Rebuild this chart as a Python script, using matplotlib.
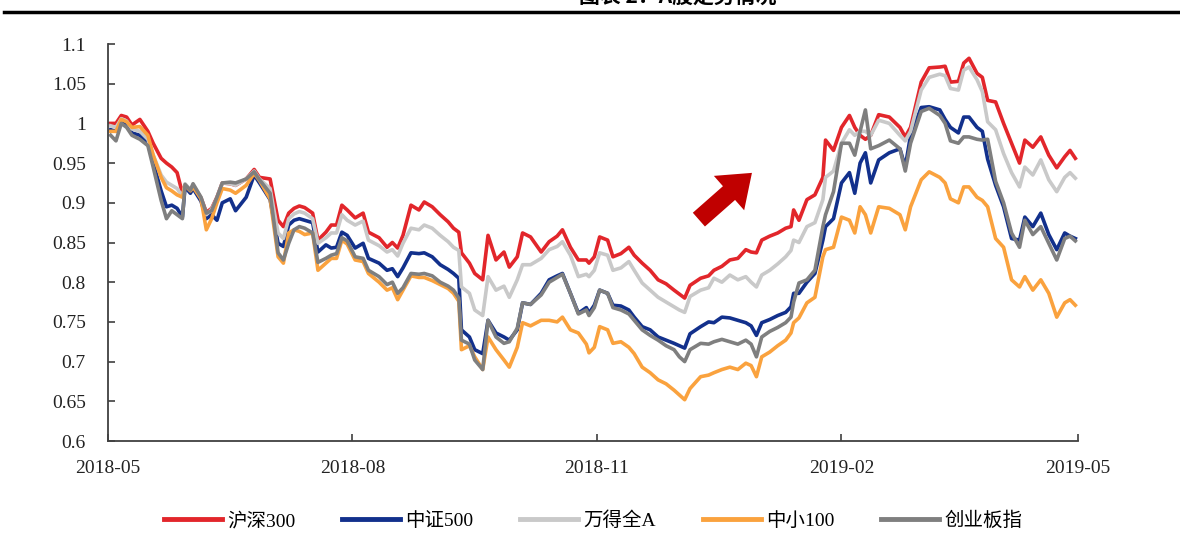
import matplotlib
matplotlib.use("Agg")
import matplotlib.pyplot as plt
import matplotlib.dates as mdates
from matplotlib.ticker import FuncFormatter
import pandas as pd

plt.rcParams["font.family"] = ["Liberation Serif", "Noto Sans CJK SC", "DejaVu Sans"]

# dates of the sampled points
dates = [
    "2018-05-02", "2018-05-04", "2018-05-06", "2018-05-08", "2018-05-10", "2018-05-13",
    "2018-05-16", "2018-05-18", "2018-05-21", "2018-05-23", "2018-05-25", "2018-05-27",
    "2018-05-29", "2018-05-30", "2018-06-01", "2018-06-02", "2018-06-05", "2018-06-07",
    "2018-06-09", "2018-06-11", "2018-06-13", "2018-06-16", "2018-06-18", "2018-06-22",
    "2018-06-25", "2018-06-27", "2018-07-01", "2018-07-04", "2018-07-06", "2018-07-08",
    "2018-07-10", "2018-07-12", "2018-07-14", "2018-07-17", "2018-07-19", "2018-07-22",
    "2018-07-24", "2018-07-26", "2018-07-28", "2018-07-30", "2018-08-02", "2018-08-05",
    "2018-08-07", "2018-08-11", "2018-08-14", "2018-08-16", "2018-08-18", "2018-08-20",
    "2018-08-23", "2018-08-26", "2018-08-28", "2018-08-31", "2018-09-03", "2018-09-06",
    "2018-09-08", "2018-09-10", "2018-09-11", "2018-09-14", "2018-09-16", "2018-09-19",
    "2018-09-21", "2018-09-24", "2018-09-27", "2018-09-29", "2018-10-02", "2018-10-04",
    "2018-10-07", "2018-10-11", "2018-10-14", "2018-10-17", "2018-10-19", "2018-10-22",
    "2018-10-25", "2018-10-28", "2018-10-29", "2018-10-31", "2018-11-02", "2018-11-05",
    "2018-11-07", "2018-11-10", "2018-11-13", "2018-11-15", "2018-11-18", "2018-11-21",
    "2018-11-24", "2018-11-27", "2018-11-30", "2018-12-02", "2018-12-04", "2018-12-06",
    "2018-12-10", "2018-12-13", "2018-12-15", "2018-12-18", "2018-12-21", "2018-12-24",
    "2018-12-27", "2018-12-29", "2018-12-31", "2019-01-02", "2019-01-05", "2019-01-08",
    "2019-01-11", "2019-01-13", "2019-01-14", "2019-01-16", "2019-01-19", "2019-01-22",
    "2019-01-25", "2019-01-26", "2019-01-29", "2019-02-01", "2019-02-04", "2019-02-06",
    "2019-02-08", "2019-02-10", "2019-02-12", "2019-02-15", "2019-02-19", "2019-02-23",
    "2019-02-25", "2019-02-27", "2019-03-03", "2019-03-06", "2019-03-10", "2019-03-12",
    "2019-03-14", "2019-03-17", "2019-03-19", "2019-03-21", "2019-03-24", "2019-03-26",
    "2019-03-28", "2019-03-31", "2019-04-03", "2019-04-06", "2019-04-09", "2019-04-11",
    "2019-04-14", "2019-04-17", "2019-04-20", "2019-04-23", "2019-04-26", "2019-04-28",
    "2019-04-30",
]

hs300 = [
    1.000, 1.000, 1.010, 1.008, 0.998, 1.005, 0.990, 0.975, 0.956, 0.950, 0.945, 0.938,
    0.912, 0.922, 0.915, 0.922, 0.906, 0.888, 0.893, 0.907, 0.925, 0.924, 0.922, 0.930,
    0.942, 0.932, 0.930, 0.878, 0.870, 0.887, 0.893, 0.896, 0.894, 0.887, 0.853, 0.863,
    0.872, 0.872, 0.897, 0.891, 0.881, 0.887, 0.863, 0.856, 0.844, 0.850, 0.843, 0.859,
    0.897, 0.891, 0.901, 0.895, 0.885, 0.876, 0.868, 0.863, 0.837, 0.824, 0.811, 0.803,
    0.859, 0.828, 0.838, 0.819, 0.832, 0.862, 0.857, 0.838, 0.851, 0.858, 0.866, 0.844,
    0.828, 0.828, 0.824, 0.832, 0.857, 0.853, 0.832, 0.836, 0.844, 0.834, 0.824, 0.815,
    0.803, 0.798, 0.790, 0.785, 0.780, 0.796, 0.805, 0.808, 0.815, 0.820, 0.828, 0.830,
    0.841, 0.838, 0.837, 0.853, 0.858, 0.862, 0.868, 0.870, 0.891, 0.878, 0.904, 0.910,
    0.932, 0.979, 0.966, 0.995, 1.010, 0.995, 0.985, 0.980, 0.985, 1.011, 1.008, 0.995,
    0.983, 0.995, 1.052, 1.070, 1.071, 1.072, 1.052, 1.053, 1.076, 1.082, 1.063, 1.058,
    1.029, 1.027, 1.000, 0.975, 0.950, 0.979, 0.970, 0.983, 0.960, 0.944, 0.958, 0.966,
    0.956,
]

zz500 = [
    0.992, 0.990, 1.003, 1.000, 0.988, 0.985, 0.975, 0.950, 0.915, 0.895, 0.897, 0.893,
    0.882, 0.920, 0.912, 0.918, 0.902, 0.880, 0.885, 0.878, 0.900, 0.905, 0.890, 0.907,
    0.935, 0.925, 0.904, 0.849, 0.845, 0.872, 0.878, 0.880, 0.878, 0.875, 0.838, 0.847,
    0.843, 0.844, 0.863, 0.859, 0.843, 0.849, 0.830, 0.824, 0.815, 0.817, 0.807, 0.818,
    0.837, 0.836, 0.837, 0.832, 0.822, 0.816, 0.811, 0.805, 0.740, 0.731, 0.715, 0.710,
    0.752, 0.736, 0.731, 0.727, 0.740, 0.774, 0.772, 0.786, 0.803, 0.808, 0.811, 0.786,
    0.761, 0.768, 0.761, 0.771, 0.790, 0.786, 0.771, 0.770, 0.765, 0.756, 0.744, 0.740,
    0.731, 0.727, 0.723, 0.720, 0.717, 0.735, 0.744, 0.750, 0.749, 0.756, 0.755, 0.752,
    0.749, 0.745, 0.733, 0.749, 0.753, 0.758, 0.762, 0.769, 0.786, 0.786, 0.800, 0.811,
    0.853, 0.870, 0.880, 0.925, 0.938, 0.912, 0.950, 0.963, 0.925, 0.954, 0.963, 0.968,
    0.945, 0.985, 1.020, 1.021, 1.017, 1.005, 0.995, 0.988, 1.008, 1.008, 0.995, 0.990,
    0.955, 0.922, 0.895, 0.855, 0.853, 0.882, 0.870, 0.887, 0.860, 0.841, 0.862, 0.858,
    0.855,
]

wind_a = [
    0.997, 0.995, 1.006, 1.003, 0.993, 0.990, 0.980, 0.960, 0.935, 0.926, 0.922, 0.918,
    0.908, 0.924, 0.916, 0.922, 0.906, 0.885, 0.892, 0.906, 0.925, 0.924, 0.922, 0.930,
    0.940, 0.930, 0.918, 0.862, 0.855, 0.880, 0.886, 0.889, 0.887, 0.880, 0.849, 0.856,
    0.862, 0.862, 0.885, 0.878, 0.872, 0.877, 0.853, 0.846, 0.838, 0.841, 0.833, 0.849,
    0.868, 0.866, 0.872, 0.868, 0.859, 0.851, 0.844, 0.840, 0.794, 0.786, 0.765, 0.758,
    0.807, 0.790, 0.795, 0.781, 0.803, 0.822, 0.822, 0.830, 0.841, 0.845, 0.851, 0.834,
    0.807, 0.810, 0.807, 0.815, 0.837, 0.834, 0.815, 0.818, 0.826, 0.815, 0.799, 0.790,
    0.781, 0.775, 0.769, 0.765, 0.762, 0.782, 0.790, 0.793, 0.805, 0.800, 0.809, 0.803,
    0.807, 0.800, 0.794, 0.809, 0.815, 0.823, 0.832, 0.840, 0.853, 0.850, 0.870, 0.875,
    0.904, 0.932, 0.940, 0.975, 0.992, 0.985, 0.990, 0.990, 0.985, 1.004, 1.000, 0.985,
    0.978, 0.990, 1.042, 1.058, 1.062, 1.060, 1.044, 1.042, 1.067, 1.071, 1.055, 1.040,
    1.002, 0.992, 0.962, 0.938, 0.920, 0.945, 0.935, 0.954, 0.929, 0.914, 0.932, 0.938,
    0.931,
]

zx100 = [
    0.990, 0.990, 1.005, 1.002, 0.995, 0.996, 0.985, 0.960, 0.932, 0.919, 0.915, 0.910,
    0.907, 0.922, 0.915, 0.920, 0.905, 0.866, 0.880, 0.900, 0.918, 0.916, 0.912, 0.922,
    0.937, 0.928, 0.905, 0.832, 0.824, 0.862, 0.866, 0.864, 0.860, 0.862, 0.815, 0.824,
    0.830, 0.830, 0.853, 0.848, 0.828, 0.826, 0.811, 0.800, 0.790, 0.793, 0.778, 0.790,
    0.808, 0.806, 0.806, 0.802, 0.797, 0.792, 0.786, 0.776, 0.715, 0.720, 0.706, 0.690,
    0.731, 0.715, 0.702, 0.693, 0.718, 0.749, 0.745, 0.752, 0.752, 0.750, 0.756, 0.740,
    0.736, 0.722, 0.711, 0.718, 0.744, 0.740, 0.723, 0.725, 0.718, 0.710, 0.693, 0.686,
    0.677, 0.672, 0.664, 0.658, 0.652, 0.666, 0.681, 0.683, 0.686, 0.690, 0.693, 0.690,
    0.698, 0.695, 0.681, 0.706, 0.712, 0.720, 0.727, 0.736, 0.749, 0.755, 0.774, 0.781,
    0.832, 0.841, 0.844, 0.882, 0.878, 0.862, 0.895, 0.885, 0.862, 0.895, 0.893, 0.885,
    0.866, 0.895, 0.929, 0.939, 0.932, 0.925, 0.905, 0.900, 0.920, 0.920, 0.907, 0.903,
    0.895, 0.855, 0.844, 0.803, 0.794, 0.807, 0.790, 0.803, 0.786, 0.756, 0.774, 0.778,
    0.771,
]

cyb = [
    0.985, 0.978, 1.000, 0.995, 0.985, 0.980, 0.972, 0.945, 0.903, 0.880, 0.890, 0.885,
    0.880, 0.923, 0.916, 0.924, 0.907, 0.887, 0.890, 0.907, 0.925, 0.926, 0.925, 0.930,
    0.939, 0.929, 0.912, 0.837, 0.828, 0.849, 0.866, 0.870, 0.868, 0.862, 0.825, 0.830,
    0.834, 0.836, 0.856, 0.852, 0.832, 0.830, 0.815, 0.807, 0.797, 0.800, 0.786, 0.793,
    0.811, 0.810, 0.811, 0.808, 0.800, 0.795, 0.790, 0.780, 0.727, 0.722, 0.702, 0.690,
    0.752, 0.731, 0.723, 0.725, 0.742, 0.774, 0.772, 0.784, 0.800, 0.806, 0.810, 0.786,
    0.760, 0.765, 0.758, 0.768, 0.790, 0.786, 0.768, 0.765, 0.760, 0.752, 0.740, 0.733,
    0.727, 0.720, 0.715, 0.706, 0.700, 0.715, 0.723, 0.722, 0.725, 0.728, 0.725, 0.722,
    0.727, 0.722, 0.706, 0.731, 0.738, 0.743, 0.749, 0.756, 0.775, 0.799, 0.803, 0.815,
    0.870, 0.885, 0.914, 0.975, 0.975, 0.960, 0.990, 1.017, 0.968, 0.972, 0.979, 0.968,
    0.940, 0.975, 1.015, 1.019, 1.010, 1.000, 0.978, 0.975, 0.983, 0.983, 0.980, 0.979,
    0.980, 0.927, 0.900, 0.862, 0.844, 0.878, 0.860, 0.870, 0.849, 0.828, 0.855, 0.858,
    0.852,
]

series_names = ["沪深300", "中证500", "万得全A", "中小100", "创业板指"]
series_colors = ["#E2262B", "#12308C", "#C9C9C9", "#FAA23E", "#7F7F7F"]

x_ticks = ["2018-05-01", "2018-08-01", "2018-11-01", "2019-02-01", "2019-05-01"]
y_ticks = [0.6, 0.65, 0.7, 0.75, 0.8, 0.85, 0.9, 0.95, 1.0, 1.05, 1.1]


def main():
    x = pd.to_datetime(dates)
    fig = plt.figure(figsize=(11.8, 5.48), dpi=100)
    ax = fig.add_axes([108 / 1180, 1 - 441 / 548, 970 / 1180, 397 / 548])

    for vals, name, col in zip([hs300, zz500, wind_a, zx100, cyb], series_names, series_colors):
        ax.plot(x, vals, color=col, lw=2.6, label=name, solid_joinstyle="round")

    ax.set_xlim(pd.Timestamp(x_ticks[0]), pd.Timestamp(x_ticks[-1]))
    ax.set_ylim(0.6, 1.1)
    ax.set_xticks(pd.to_datetime(x_ticks))
    ax.xaxis.set_major_formatter(mdates.DateFormatter("%Y-%m"))
    ax.set_yticks(y_ticks)
    ax.yaxis.set_major_formatter(FuncFormatter(lambda v, p: f"{v:g}"))

    for side in ["top", "right"]:
        ax.spines[side].set_visible(False)
    for side in ["left", "bottom"]:
        ax.spines[side].set_color("#404040")
        ax.spines[side].set_linewidth(1.3)
    ax.tick_params(axis="both", direction="in", length=5, width=1.2, color="#404040",
                   labelsize=14, labelcolor="#222222")
    ax.tick_params(axis="y", pad=16)
    ax.tick_params(axis="x", pad=14)

    # red arrow showing the rebound
    ax.annotate("", xy=(0.666, 0.68), xytext=(0.607, 0.553), xycoords="axes fraction",
                arrowprops=dict(arrowstyle="simple,head_width=1.5,head_length=1.0,tail_width=0.6",
                                mutation_scale=22, color="#C00000", lw=0))

    leg = fig.legend(loc="center", bbox_to_anchor=(593 / 1180, 1 - 521 / 548), ncol=5,
                     frameon=False, fontsize=14, handlelength=3.0, handletextpad=0.25,
                     columnspacing=2.4)
    for line in leg.get_lines():
        line.set_linewidth(3.5)

    # header rule and clipped caption of the source report
    fig.add_artist(plt.Line2D([4 / 1180, 1.0], [1 - 12 / 548, 1 - 12 / 548],
                              color="black", lw=2.5, transform=fig.transFigure))
    fig.text(678 / 1180, 1 + 4 / 548, "图表 2：A股走势情况", ha="center", va="center",
             fontsize=15, fontweight="bold", family=["Noto Sans CJK SC", "DejaVu Sans"])

    fig.savefig("out.png", dpi=100)


if __name__ == "__main__":
    main()
